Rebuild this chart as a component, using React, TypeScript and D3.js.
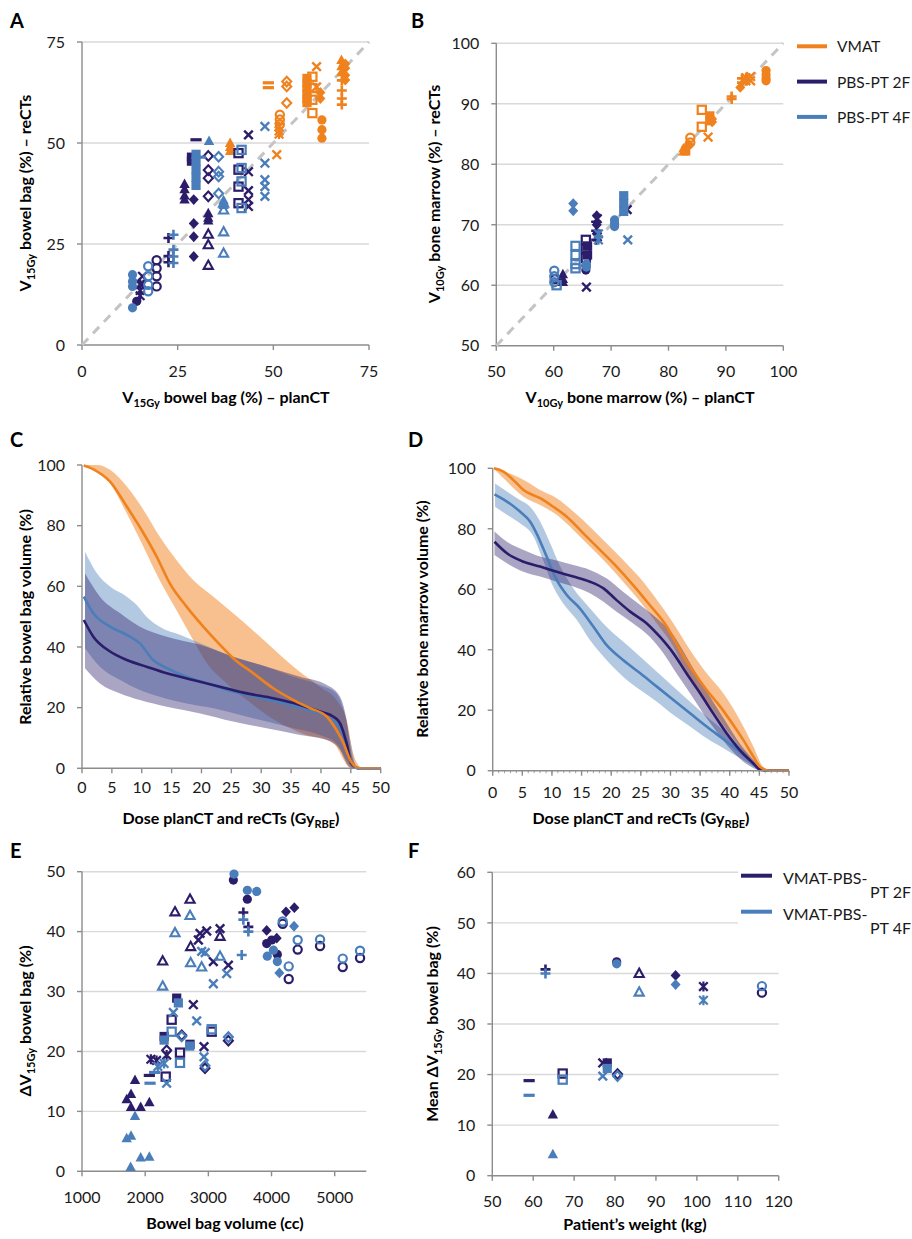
import React from 'react';
import * as d3 from 'd3';

const ORANGE = '#F0821E';
const NAVY = '#2C1D6B';
const STEEL = '#4A7EBB';
const GRID = '#D9D9D9';
const AXIS = '#8C8C8C';
const TXT = '#1a1a1a';
const FONT = 'Lato, "Open Sans", sans-serif';

// ---------- Panel A: V15Gy bowel bag, planCT (x) vs reCTs (y) ----------
const aTicks = [0, 25, 50, 75];
const aVmat = [
  ['triangle', 38.7, [50.0, 49.0, 48.0]],
  ['dash', 48.7, [64.9, 63.7]],
  ['x', 50.9, [47.1]],
  ['circleOpen', 51.7, [57.0, 55.8, 54.6]],
  ['star', 51.5, [54.0, 53.0, 52.2]],
  ['diamondOpen', 53.5, [65.2, 64.0, 59.9]],
  ['square', 58.8, [66.0, 64.8, 63.5, 62.2, 61.0, 60.0]],
  ['squareOpen', 60.2, [66.4, 63.6, 60.7, 57.4]],
  ['x', 61.3, [68.9, 63.9]],
  ['diamond', 62.3, [62.5, 61.0]],
  ['circle', 62.7, [55.7, 53.3, 51.2]],
  ['plus', 67.9, [65.5, 63.0, 61.0, 59.5]],
  ['triangle', 67.8, [70.5, 69.0, 67.5]],
  ['diamond', 68.8, [69.6, 68.5, 66.8, 65.6]],
];
const a2F = [
  ['dash', 29.8, [50.8]],
  ['square', 28.6, [46.5, 45.5]],
  ['triangle', 26.8, [39.8, 38.5, 37.0, 36.0]],
  ['diamond', 29.2, [36.0, 30.1, 26.8, 21.9]],
  ['diamondOpen', 33.0, [46.8, 43.3, 41.3, 36.8]],
  ['triangle', 33.0, [32.6, 31.5, 30.8]],
  ['triangleOpen', 33.0, [27.4, 24.8, 19.7]],
  ['squareOpen', 40.9, [47.5, 43.4, 39.2, 35.1]],
  ['x', 43.5, [52.0, 42.9, 38.2, 36.0, 34.3]],
  ['plus', 22.6, [26.5, 22.0, 20.5]],
  ['circle', 14.3, [10.8]],
  ['circleOpen', 19.5, [21.0, 19.0, 17.0, 14.5]],
  ['x', 15.8, [17.0, 15.0]],
  ['star', 15.2, [15.0, 13.5, 12.2]],
];
const a4F = [
  ['circle', 13.2, [17.4, 15.7, 14.5, 9.2]],
  ['circleOpen', 17.3, [19.5, 17.0, 14.9, 13.3]],
  ['plus', 23.9, [27.3, 23.6, 21.9, 20.3]],
  ['square', 29.8, [47.2, 45.5, 43.5, 41.5, 39.5]],
  ['dash', 31.0, [46.5]],
  ['triangle', 33.2, [50.5]],
  ['triangleOpen', 37.0, [35.1, 33.4, 28.0, 22.7]],
  ['triangle', 37.0, [35.8, 34.6]],
  ['diamondOpen', 35.7, [46.6, 42.9, 41.7, 37.5]],
  ['squareOpen', 41.7, [48.3, 43.8, 40.5, 33.9]],
  ['x', 47.8, [54.1, 45.0, 40.9, 39.2, 36.8]],
];

// ---------- Panel B: V10Gy bone marrow ----------
const bTicks = [50, 60, 70, 80, 90, 100];
const bVmat = [
  ['circle', 97.0, [95.5, 94.8, 94.2, 93.8]],
  ['star', 93.5, [94.3, 93.8]],
  ['x', 94.3, [94.5, 93.8]],
  ['plus', 92.8, [94.2, 93.5]],
  ['diamond', 92.5, [92.7]],
  ['plus', 91.0, [91.2, 90.8]],
  ['squareOpen', 85.8, [89.0, 86.2]],
  ['square', 87.2, [88.0, 87.2]],
  ['diamond', 87.6, [87.5, 87.0]],
  ['x', 86.9, [84.5]],
  ['circleOpen', 83.8, [84.4, 83.6]],
  ['circle', 83.5, [83.2]],
  ['triangle', 82.6, [82.6, 82.1]],
  ['square', 83.0, [82.2]],
];
const b2F = [
  ['x', 65.7, [59.7]],
  ['triangle', 61.6, [61.8, 61.0, 60.5]],
  ['circleOpen', 60.2, [61.0]],
  ['squareOpen', 65.6, [67.5, 66.0, 64.5]],
  ['square', 65.9, [66.5, 65.0]],
  ['circle', 65.6, [63.2, 62.5]],
  ['plus', 67.4, [70.5, 69.0, 67.5]],
  ['star', 67.6, [71.0, 68.0]],
  ['diamond', 67.5, [71.5, 70.0, 68.5]],
  ['x', 72.8, [72.5]],
];
const b4F = [
  ['circleOpen', 60.1, [62.4, 61.5, 60.5]],
  ['squareOpen', 60.5, [60.0]],
  ['squareOpen', 63.8, [66.5, 65.0, 63.5, 62.8]],
  ['diamond', 63.4, [73.5, 72.3]],
  ['circle', 65.7, [63.5, 63.0]],
  ['circle', 70.6, [70.8, 70.2, 69.7]],
  ['square', 72.2, [74.8, 73.5, 72.2]],
  ['x', 72.9, [67.5]],
  ['star', 67.8, [68.5, 67.5]],
];

// ---------- Panel C: bowel bag DVH (dose, %) ----------
const doseTicks = [0, 5, 10, 15, 20, 25, 30, 35, 40, 45, 50];
const volTicks = [0, 20, 40, 60, 80, 100];
const cVmatMean = [[0.3,99.8],[2,98.5],[4.7,94.5],[7.5,86.3],[10.3,77.5],[12.5,69.8],[14.7,61],[17.5,53.3],[20.3,46.7],[23.1,40.7],[25.3,36.3],[28.7,31.3],[32,26.4],[35.4,22.5],[38.2,19.8],[41,17],[42.6,12.6],[43.8,8.2],[44.9,2.7],[46,0.3],[47,0],[50,0]];
const cVmatUp = [[0.3,100],[2.5,100],[4.7,98.4],[7.5,92.9],[10.3,85.2],[13,76.4],[15.8,68.7],[18.6,62.1],[22,56.6],[25.3,51.1],[29.8,43.4],[35.4,33.5],[39.8,26.9],[42.6,22.5],[44.3,15.9],[45.4,5],[46.5,0.5],[47,0]];
const cVmatLo = [[0.3,99.5],[3,97.8],[4.7,94],[7.5,84],[10.3,73],[13,62],[15.8,52.2],[18.6,42.3],[20.9,34.6],[24.2,28],[27.6,22.5],[30.9,17.6],[34.3,13.7],[37.6,11],[41,9.3],[42.6,7.1],[43.8,2.7],[44.6,0.5],[45,0]];
const c4fMean = [[0.3,56.6],[1.9,51.1],[4.7,46.7],[7.5,44],[9.7,41.2],[11.9,35.7],[14.2,33],[17.5,30.2],[20.9,28],[25.3,25.3],[29.8,23.3],[34.3,21.2],[38.7,18.7],[41.5,16.5],[43.2,13.2],[44.3,7.1],[45.1,1.6],[46.3,0],[50,0]];
const c4fUp = [[0.5,71.4],[2.5,64.3],[4.7,59.9],[7.5,56.6],[9.2,53.8],[10.8,50],[13,46.7],[16.4,44],[19.8,41.2],[25.3,36.8],[30.9,33.5],[35.4,30.2],[39.8,27.5],[42.6,24.7],[43.8,19.2],[44.9,9.3],[45.7,1.6],[46.5,0]];
const c4fLo = [[0.5,39.6],[3,33.5],[6.4,29.1],[9.7,25.8],[13,23.6],[17.5,21.4],[22,19.8],[26.5,17.6],[30.9,15.4],[35.4,13.2],[39.8,11],[42.6,8.2],[44.3,2.7],[45.1,0.5],[45.5,0]];
const c2fMean = [[0.3,48.9],[1.9,43.4],[4.7,38.5],[7.5,35.7],[10.8,33.5],[14.2,31.3],[18.6,29.1],[23.1,26.9],[27.6,24.7],[32,23.1],[36.5,20.9],[39.8,18.7],[42.1,17],[43.2,14.8],[44.3,8.2],[45.1,1.6],[46.3,0],[50,0]];
const c2fUp = [[0.5,64.3],[3,56.6],[6.4,51.1],[9.7,46.7],[14.2,43.4],[19.8,40.7],[25.3,36.8],[30.9,33.5],[36.5,30.2],[41,27.5],[43.2,23.6],[44.3,15.9],[45.1,4.9],[46,0.5],[46.5,0]];
const c2fLo = [[0.5,33],[3,28],[6.4,24.7],[9.7,22.5],[14.2,20.3],[19.8,18.1],[25.3,15.4],[30.9,13.2],[36.5,11],[41,9.3],[43.2,6],[44.3,1.6],[45,0]];

// ---------- Panel D: bone marrow DVH ----------
const dVmatMean = [[0.2,100],[1.8,98.9],[3.5,96.1],[5.2,92.8],[8,90.1],[10.2,87.3],[12.5,84],[15.3,78.5],[18.1,73],[20.9,67.5],[23.7,61.4],[26.5,54.8],[29.4,47.6],[31.6,39.9],[33.9,32.7],[36.1,26.7],[38.4,21.2],[40.6,15.1],[42.3,10.1],[44,4.6],[45.1,1.3],[46.8,0],[50,0]];
const dVmatUp = [[0.1,100],[3.5,97.8],[5.7,95.6],[8,92.8],[10.8,90.1],[13.6,85.7],[16.4,80.7],[19.2,75.2],[22,69.7],[24.9,63.6],[27.7,56.5],[30.5,48.7],[33.3,39.9],[36.1,32.2],[38.9,25.6],[41.7,16.8],[44,7.9],[45.4,1.9],[46.8,0]];
const dVmatLo = [[0.4,99.4],[2.4,95.6],[5.2,90.6],[8,87.9],[10.8,84.6],[13.6,79.6],[16.4,74.1],[19.2,68.6],[22,62.5],[24.9,55.9],[27.7,48.7],[30.5,41],[32.7,32.2],[35,25.6],[37.2,20.1],[39.5,13.5],[41.7,7.9],[43.4,3],[44.8,0.2]];
const d2fMean = [[0.3,75.7],[2.4,71.9],[5.2,69.1],[8,67.5],[10.8,65.8],[13.6,64.2],[16.4,62.5],[18.7,60.3],[20.9,56.4],[23.2,52.6],[26,48.7],[28.2,44.3],[30.5,38.8],[32.7,32.2],[35,25.6],[37.2,19],[39.5,12.3],[41.7,6.8],[44,2.4],[45.1,0.4],[46.8,0],[50,0]];
const d2fUp = [[0.3,79.1],[2.4,75.7],[5.2,73],[8,70.8],[10.8,69.5],[13.6,68],[16.4,66.4],[19.2,63.6],[22,59.2],[24.9,54.8],[27.7,50.4],[30.5,44.9],[32.7,37.7],[35,30],[37.2,22.8],[39.5,15.7],[41.7,9],[44,3.5],[45.1,0.8],[46,0]];
const d2fLo = [[0.3,71.3],[2.4,68.6],[5.2,65.8],[8,64.2],[10.8,62.5],[13.6,60.9],[16.4,58.7],[18.7,55.9],[20.9,52.6],[23.7,48.7],[26.5,44.3],[28.8,38.8],[31,32.2],[33.3,25.6],[35.5,19],[37.8,12.9],[40,7.4],[42.3,3],[44.5,0.4],[45,0]];
const d4fMean = [[0.3,91.4],[2.4,89],[4.6,85.7],[6.3,82.4],[7.4,78.5],[9.1,70.8],[10.8,63.1],[12.5,58.1],[14.7,53.7],[17,47.6],[19.2,41.6],[22,36.6],[24.9,32.2],[27.7,27.8],[30.5,23.4],[33.3,19],[36.1,14.6],[39.5,9.6],[42.3,5.2],[44.5,1.3],[46.2,0],[50,0]];
const d4fUp = [[0.4,95],[2.4,92.3],[4.6,89.5],[6.3,87.3],[8,82.4],[9.7,75.2],[11.4,67.5],[13.6,60.3],[16.4,53.7],[19.2,47.6],[22,42.7],[24.9,37.7],[27.7,32.7],[30.5,27.8],[33.3,22.8],[36.1,17.9],[39.5,12.3],[42.3,6.8],[44.5,1.9],[45.5,0]];
const d4fLo = [[0.4,87.3],[2.4,84.6],[4.6,81.8],[6.9,77.4],[8.5,69.7],[10.2,60.9],[11.9,55.3],[14.2,49.8],[16.4,43.2],[19.2,36.6],[22,31.1],[24.9,26.7],[27.7,22.8],[30.5,18.4],[33.3,14.6],[36.1,10.7],[39.5,6.8],[42.3,3.5],[44.5,0.8],[45,0]];

// ---------- Panel E: ΔV15Gy vs bowel bag volume ----------
const eXTicks = [1000, 2000, 3000, 4000, 5000];
const eYTicks = [0, 10, 20, 30, 40, 50];
const e2F = [
  ['triangle', 1707, 12.0], ['triangle', 1776, 12.9], ['triangle', 1839, 15.2], ['triangle', 1776, 10.7], ['triangle', 1929, 10.7], ['triangle', 2066, 11.5],
  ['triangleOpen', 2472, 43.3], ['triangleOpen', 2710, 45.4], ['triangleOpen', 2277, 35.1], ['triangleOpen', 2720, 37.5], ['triangleOpen', 3185, 39.2],
  ['x', 2762, 27.8], ['x', 2931, 20.8], ['x', 2842, 38.6], ['x', 2868, 39.7], ['x', 2974, 40.1], ['x', 3185, 40.5], ['x', 3317, 34.4], ['x', 3079, 35.0],
  ['circle', 3396, 48.6], ['circle', 3617, 45.4], ['circle', 3923, 38.0], ['circle', 4003, 38.6], ['circle', 4092, 36.2],
  ['diamond', 3923, 40.2], ['diamond', 4229, 43.3], ['diamond', 4361, 44.0], ['diamond', 4082, 38.9],
  ['circleOpen', 4177, 41.3], ['circleOpen', 4272, 32.1], ['circleOpen', 4414, 37.0], ['circleOpen', 4768, 37.6], ['circleOpen', 5127, 34.1], ['circleOpen', 5401, 35.6],
  ['plus', 3554, 43.2], ['plus', 3633, 40.8],
  ['squareOpen', 2419, 25.3], ['squareOpen', 2551, 19.8], ['squareOpen', 3053, 23.3], ['squareOpen', 2325, 15.8],
  ['square', 2300, 22.5], ['square', 2499, 28.9], ['square', 2710, 21.2],
  ['diamondOpen', 2578, 22.7], ['diamondOpen', 2947, 17.2], ['diamondOpen', 3317, 21.8], ['diamondOpen', 2340, 20.2],
  ['dash', 2066, 16.0],
  ['star', 2090, 18.7], ['star', 2340, 19.4], ['star', 2180, 18.5],
];
const e4F = [
  ['triangle', 1770, 0.7], ['triangle', 1707, 5.5], ['triangle', 1776, 5.9], ['triangle', 1839, 9.2], ['triangle', 1929, 2.3], ['triangle', 2066, 2.4],
  ['triangleOpen', 2277, 30.9], ['triangleOpen', 2472, 39.8], ['triangleOpen', 2710, 42.7], ['triangleOpen', 2720, 34.8], ['triangleOpen', 2894, 34.1], ['triangleOpen', 3185, 35.9],
  ['x', 2815, 25.1], ['x', 2931, 19.1], ['x', 3079, 31.3], ['x', 3290, 33.0], ['x', 2340, 14.7], ['x', 2446, 26.5], ['x', 2894, 36.7], ['x', 2950, 36.5],
  ['circle', 3406, 49.6], ['circle', 3617, 46.9], ['circle', 3765, 46.7], ['circle', 3933, 35.9], ['circle', 4092, 35.0], ['circle', 4030, 36.9],
  ['diamond', 4124, 33.1], ['diamond', 4356, 40.9],
  ['circleOpen', 4177, 41.7], ['circleOpen', 4272, 34.2], ['circleOpen', 4414, 38.6], ['circleOpen', 4768, 38.7], ['circleOpen', 5127, 35.5], ['circleOpen', 5401, 36.8],
  ['plus', 3554, 42.0], ['plus', 3633, 40.0], ['plus', 3528, 36.1],
  ['squareOpen', 2419, 23.3], ['squareOpen', 2551, 18.1], ['squareOpen', 3053, 23.7],
  ['square', 2300, 21.9], ['square', 2525, 28.1], ['square', 2705, 20.9],
  ['diamondOpen', 2578, 22.5], ['diamondOpen', 2947, 17.6], ['diamondOpen', 3317, 22.4],
  ['dash', 2077, 14.7], ['dash', 2150, 16.5],
  ['star', 2200, 17.5], ['star', 2300, 18.0],
];

// ---------- Panel F: mean ΔV15Gy vs patient weight ----------
const fXTicks = [50, 60, 70, 80, 90, 100, 110, 120];
const fYTicks = [0, 10, 20, 30, 40, 50, 60];
const fMarkers = ['dash', 'plus', 'triangle', 'squareOpen', 'x', 'square', 'diamondOpen', 'circle', 'triangleOpen', 'diamond', 'star', 'circleOpen'];
const fWeight = [59, 63, 64.8, 67.2, 77, 78.1, 80.6, 80.4, 85.9, 94.8, 101.6, 115.9];
const f2F = [18.8, 40.8, 12.1, 20.2, 22.3, 22.3, 20.1, 42.3, 40.0, 39.6, 37.4, 36.2];
const f4F = [15.9, 40.0, 4.2, 19.0, 19.7, 21.2, 19.7, 41.9, 36.3, 37.8, 34.7, 37.5];

const legendB = [['VMAT', ORANGE], ['PBS-PT 2F', NAVY], ['PBS-PT 4F', STEEL]];
const legendF = [['PT 2F', NAVY], ['PT 4F', STEEL]];

function marker(type, cx, cy, color, key) {
  switch (type) {
    case 'circle':
      return <circle key={key} cx={cx} cy={cy} r={4.6} fill={color} />;
    case 'circleOpen':
      return <circle key={key} cx={cx} cy={cy} r={4.1} fill="none" stroke={color} strokeWidth={2.2} />;
    case 'triangle':
      return <path key={key} d={`M${cx},${cy - 5.6}L${cx + 5.2},${cy + 3.9}L${cx - 5.2},${cy + 3.9}Z`} fill={color} />;
    case 'triangleOpen':
      return <path key={key} d={`M${cx},${cy - 4.8}L${cx + 4.6},${cy + 3.5}L${cx - 4.6},${cy + 3.5}Z`} fill="none" stroke={color} strokeWidth={2.1} />;
    case 'square':
      return <rect key={key} x={cx - 4.6} y={cy - 4.6} width={9.2} height={9.2} fill={color} />;
    case 'squareOpen':
      return <rect key={key} x={cx - 4.1} y={cy - 4.1} width={8.2} height={8.2} fill="none" stroke={color} strokeWidth={2.2} />;
    case 'diamond':
      return <path key={key} d={`M${cx},${cy - 5.4}L${cx + 5},${cy}L${cx},${cy + 5.4}L${cx - 5},${cy}Z`} fill={color} />;
    case 'diamondOpen':
      return <path key={key} d={`M${cx},${cy - 4.8}L${cx + 4.5},${cy}L${cx},${cy + 4.8}L${cx - 4.5},${cy}Z`} fill="none" stroke={color} strokeWidth={2.1} />;
    case 'x':
      return <path key={key} d={`M${cx - 4.3},${cy - 4.3}L${cx + 4.3},${cy + 4.3}M${cx + 4.3},${cy - 4.3}L${cx - 4.3},${cy + 4.3}`} stroke={color} strokeWidth={2.4} fill="none" />;
    case 'plus':
      return <path key={key} d={`M${cx - 5},${cy}L${cx + 5},${cy}M${cx},${cy - 5}L${cx},${cy + 5}`} stroke={color} strokeWidth={2.6} fill="none" />;
    case 'dash':
      return <rect key={key} x={cx - 5.6} y={cy - 1.6} width={11.2} height={3.2} fill={color} />;
    case 'star':
      return <path key={key} d={`M${cx - 4.3},${cy - 4.3}L${cx + 4.3},${cy + 4.3}M${cx + 4.3},${cy - 4.3}L${cx - 4.3},${cy + 4.3}M${cx},${cy - 5}L${cx},${cy + 5}`} stroke={color} strokeWidth={2.2} fill="none" />;
    default:
      return null;
  }
}

function Axes({ xs, ys, xTicks, yTicks, grid, xLabOff, xMinor }) {
  const [x0, x1] = xs.range();
  const [y0, y1] = ys.range();
  const ymin = ys.domain()[0];
  return (
    <g>
      {grid && yTicks.filter((t) => t !== ymin).map((t) => (
        <line key={'g' + t} x1={x0} x2={x1} y1={ys(t)} y2={ys(t)} stroke={GRID} strokeWidth={1.4} />
      ))}
      {xMinor && d3.range(xs.domain()[0], xs.domain()[1] + 0.01, 1).map((t) => (
        <line key={'m' + t} x1={xs(t)} x2={xs(t)} y1={y0} y2={y0 + 2.5} stroke={AXIS} strokeWidth={0.8} />
      ))}
      <line x1={x0} x2={x1} y1={y0} y2={y0} stroke={AXIS} strokeWidth={1.4} />
      <line x1={x0} x2={x0} y1={y0 + 0.7} y2={y1} stroke={AXIS} strokeWidth={1.4} />
      {xTicks.map((t) => (
        <g key={'x' + t}>
          <line x1={xs(t)} x2={xs(t)} y1={y0} y2={y0 + 5} stroke={AXIS} strokeWidth={1.4} />
          <text x={xs(t)} y={y0 + xLabOff} textAnchor="middle" fontFamily={FONT} fontSize={16} fill={TXT}>{t}</text>
        </g>
      ))}
      {yTicks.map((t) => (
        <g key={'y' + t}>
          <line x1={x0 - 5} x2={x0} y1={ys(t)} y2={ys(t)} stroke={AXIS} strokeWidth={1.4} />
          <text x={x0 - 17} y={ys(t)} dy="0.36em" textAnchor="end" fontFamily={FONT} fontSize={16} fill={TXT}>{t}</text>
        </g>
      ))}
    </g>
  );
}

function Title({ x, y, parts, rotate }) {
  return (
    <text transform={`translate(${x},${y})${rotate ? ' rotate(-90)' : ''}`} textAnchor="middle" fontFamily={FONT} fontWeight="bold" fontSize={16} fill="#000">
      {parts.map((p, i) =>
        p.sub ? (
          <tspan key={i} fontSize={11} dy={4}>{p.t}</tspan>
        ) : (
          <tspan key={i} dy={i > 0 && parts[i - 1].sub ? -4 : 0}>{p.t}</tspan>
        )
      )}
    </text>
  );
}

function Letter({ x, y, t }) {
  return <text x={x} y={y} fontFamily={FONT} fontWeight="bold" fontSize={20} fill="#000">{t}</text>;
}

function scatterPlan(rows, xs, ys, color, pre) {
  const out = [];
  rows.forEach((r, i) => {
    r[2].forEach((v, j) => out.push(marker(r[0], xs(r[1]), ys(v), color, pre + i + '_' + j)));
  });
  return out;
}

function curvePath(xs, ys, pts) {
  return d3.line().x((d) => xs(d[0])).y((d) => ys(d[1])).curve(d3.curveMonotoneX)(pts);
}

function bandPath(xs, ys, up, lo) {
  const a = curvePath(xs, ys, up);
  const b = curvePath(xs, ys, lo.slice().reverse());
  return a + 'L' + b.slice(1) + 'Z';
}

export default function App() {
  const axA = d3.scaleLinear([0, 75], [82, 369]);
  const ayA = d3.scaleLinear([0, 75], [345, 42]);
  const axB = d3.scaleLinear([50, 100], [496.3, 783.3]);
  const ayB = d3.scaleLinear([50, 100], [345.7, 43.3]);
  const axC = d3.scaleLinear([0, 50], [82, 380.7]);
  const ayC = d3.scaleLinear([0, 100], [768.3, 465]);
  const axD = d3.scaleLinear([0, 50], [492.7, 789]);
  const ayD = d3.scaleLinear([0, 100], [770.7, 468.3]);
  const axE = d3.scaleLinear([1000, 5500], [82, 366.3]);
  const ayE = d3.scaleLinear([0, 50], [1171.3, 871.7]);
  const axF = d3.scaleLinear([50, 120], [492.3, 778.7]);
  const ayF = d3.scaleLinear([0, 60], [1175.7, 872.3]);

  const bandOp = { vmat: 0.5, f2: 0.4, f4: 0.42 };

  return (
    <svg width={912} height={1239} style={{ position: 'absolute', left: 0, top: 0, background: '#fff' }}>
      <rect x={0} y={0} width={912} height={1239} fill="#fff" />

      {/* Panel A */}
      <Letter x={10} y={28} t="A" />
      <Axes xs={axA} ys={ayA} xTicks={aTicks} yTicks={aTicks} grid xLabOff={31.5} />
      <line x1={axA(0)} y1={ayA(0)} x2={axA(75)} y2={ayA(75)} stroke="#C4C4C4" strokeWidth={3} strokeDasharray="9 7" />
      {scatterPlan(aVmat, axA, ayA, ORANGE, 'av')}
      {scatterPlan(a2F, axA, ayA, NAVY, 'a2')}
      {scatterPlan(a4F, axA, ayA, STEEL, 'a4')}
      <Title x={31} y={193} rotate parts={[{ t: 'V' }, { t: '15Gy', sub: true }, { t: ' bowel bag (%) – reCTs' }]} />
      <Title x={226} y={403} parts={[{ t: 'V' }, { t: '15Gy', sub: true }, { t: ' bowel bag (%) – planCT' }]} />

      {/* Panel B */}
      <Letter x={411} y={28} t="B" />
      <Axes xs={axB} ys={ayB} xTicks={bTicks} yTicks={bTicks} grid xLabOff={31} />
      <line x1={axB(50)} y1={ayB(50)} x2={axB(100)} y2={ayB(100)} stroke="#C4C4C4" strokeWidth={3} strokeDasharray="9 7" />
      {scatterPlan(bVmat, axB, ayB, ORANGE, 'bv')}
      {scatterPlan(b2F, axB, ayB, NAVY, 'b2')}
      {scatterPlan(b4F, axB, ayB, STEEL, 'b4')}
      <Title x={440} y={194} rotate parts={[{ t: 'V' }, { t: '10Gy', sub: true }, { t: ' bone marrow (%) – reCTs' }]} />
      <Title x={640} y={403} parts={[{ t: 'V' }, { t: '10Gy', sub: true }, { t: ' bone marrow (%) – planCT' }]} />
      {legendB.map((l, i) => (
        <g key={'lb' + i}>
          <line x1={797} x2={827} y1={46.3 + i * 35.3} y2={46.3 + i * 35.3} stroke={l[1]} strokeWidth={4} />
          <text x={837} y={46.3 + i * 35.3 + 6} fontFamily={FONT} fontSize={15.5} fill={TXT}>{l[0]}</text>
        </g>
      ))}

      {/* Panel C */}
      <Letter x={10} y={447} t="C" />
      <path d={bandPath(axC, ayC, cVmatUp, cVmatLo)} fill={ORANGE} fillOpacity={bandOp.vmat} />
      <path d={bandPath(axC, ayC, c4fUp, c4fLo)} fill={STEEL} fillOpacity={bandOp.f4} />
      <path d={bandPath(axC, ayC, c2fUp, c2fLo)} fill={NAVY} fillOpacity={bandOp.f2} />
      <path d={curvePath(axC, ayC, c4fMean)} fill="none" stroke={STEEL} strokeWidth={2.6} />
      <path d={curvePath(axC, ayC, c2fMean)} fill="none" stroke={NAVY} strokeWidth={2.6} />
      <path d={curvePath(axC, ayC, cVmatMean)} fill="none" stroke={ORANGE} strokeWidth={2.6} />
      <Axes xs={axC} ys={ayC} xTicks={doseTicks} yTicks={volTicks} xLabOff={24.5} />
      <Title x={31} y={617} rotate parts={[{ t: 'Relative bowel bag volume (%)' }]} />
      <Title x={231} y={824} parts={[{ t: 'Dose planCT and reCTs (Gy' }, { t: 'RBE', sub: true }, { t: ')' }]} />

      {/* Panel D */}
      <Letter x={408} y={447} t="D" />
      <path d={bandPath(axD, ayD, dVmatUp, dVmatLo)} fill={ORANGE} fillOpacity={bandOp.vmat} />
      <path d={bandPath(axD, ayD, d4fUp, d4fLo)} fill={STEEL} fillOpacity={bandOp.f4} />
      <path d={bandPath(axD, ayD, d2fUp, d2fLo)} fill={NAVY} fillOpacity={bandOp.f2} />
      <path d={curvePath(axD, ayD, d4fMean)} fill="none" stroke={STEEL} strokeWidth={2.6} />
      <path d={curvePath(axD, ayD, d2fMean)} fill="none" stroke={NAVY} strokeWidth={2.6} />
      <path d={curvePath(axD, ayD, dVmatMean)} fill="none" stroke={ORANGE} strokeWidth={2.6} />
      <Axes xs={axD} ys={ayD} xTicks={doseTicks} yTicks={volTicks} xLabOff={27} xMinor />
      <Title x={428} y={619} rotate parts={[{ t: 'Relative bone marrow volume (%)' }]} />
      <Title x={641} y={824} parts={[{ t: 'Dose planCT and reCTs (Gy' }, { t: 'RBE', sub: true }, { t: ')' }]} />

      {/* Panel E */}
      <Letter x={10} y={858} t="E" />
      <Axes xs={axE} ys={ayE} xTicks={eXTicks} yTicks={eYTicks} grid xLabOff={31.5} />
      {e2F.map((p, i) => marker(p[0], axE(p[1]), ayE(p[2]), NAVY, 'e2' + i))}
      {e4F.map((p, i) => marker(p[0], axE(p[1]), ayE(p[2]), STEEL, 'e4' + i))}
      <Title x={31} y={1021} rotate parts={[{ t: 'ΔV' }, { t: '15Gy', sub: true }, { t: ' bowel bag (%)' }]} />
      <Title x={225} y={1229} parts={[{ t: 'Bowel bag volume (cc)' }]} />

      {/* Panel F */}
      <Letter x={408} y={858} t="F" />
      <Axes xs={axF} ys={ayF} xTicks={fXTicks} yTicks={fYTicks} grid xLabOff={31.5} />
      <rect x={738} y={862} width={174} height={82} fill="#fff" />
      {fWeight.map((w, i) => marker(fMarkers[i], axF(w), ayF(f2F[i]), NAVY, 'f2' + i))}
      {fWeight.map((w, i) => marker(fMarkers[i], axF(w), ayF(f4F[i]), STEEL, 'f4' + i))}
      <Title x={438} y={1024} rotate parts={[{ t: 'Mean ΔV' }, { t: '15Gy', sub: true }, { t: ' bowel bag (%)' }]} />
      <Title x={635} y={1230} parts={[{ t: 'Patient\u2019s weight (kg)' }]} />
      {legendF.map((l, i) => (
        <g key={'lf' + i}>
          <line x1={741} x2={772} y1={875.7 + i * 36} y2={875.7 + i * 36} stroke={l[1]} strokeWidth={4} />
          <text x={783} y={884 + i * 36} fontFamily={FONT} fontSize={16} fill={TXT}>VMAT-PBS-</text>
          <text x={870} y={898 + i * 36} fontFamily={FONT} fontSize={16} fill={TXT}>{l[0]}</text>
        </g>
      ))}
    </svg>
  );
}
